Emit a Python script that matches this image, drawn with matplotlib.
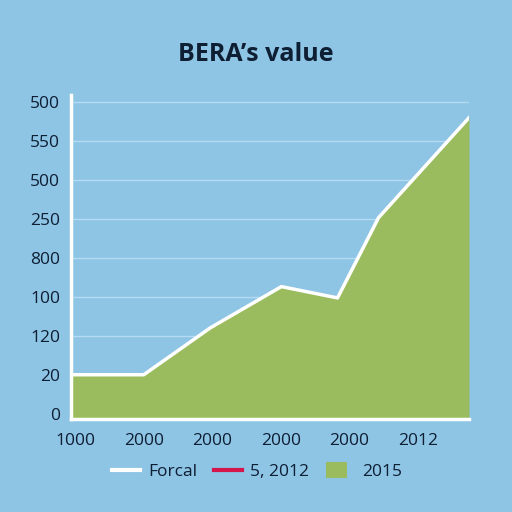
import numpy as np
import matplotlib
matplotlib.use("Agg")
from matplotlib import pyplot as plt
from matplotlib.lines import Line2D
from matplotlib.patches import Patch, Rectangle
from matplotlib.legend_handler import HandlerPatch

# values (tick index units)
x_vals = [-0.06, 1.0, 1.97, 3.01, 3.83, 4.43, 5.75]
y_vals = [1.0, 1.0, 2.2, 3.26, 2.97, 5.03, 7.59]

y_labels = ["0", "20", "120", "100", "800", "250", "500", "550", "500"]
x_labels = ["1000", "2000", "2000", "2000", "2000", "2012"]
legend_labels = ["Forcal", "5, 2012", "2015"]

bg = "#8ec4e4"
green = "#9bbc5e"
ink = "#0e1e33"

plt.rcParams["font.family"] = ["Open Sans", "DejaVu Sans"]


def square_patch(legend, orig_handle, xdescent, ydescent, width, height, fontsize):
    # narrower, taller box than the default legend patch
    w = width * 0.75
    h = height * 1.3
    return Rectangle((-xdescent, -ydescent - (h - height) / 2), w, h)


fig = plt.figure(figsize=(5.12, 5.12), dpi=100, facecolor=bg)
ax = fig.add_axes([0.139, 0.182, 0.777, 0.633], facecolor=bg)

ymin, ymax = -0.13, 8.18
ax.fill_between(x_vals, y_vals, ymin, color=green, lw=0, zorder=2)
ax.plot(x_vals, y_vals, color="white", lw=2.5, solid_joinstyle="round", zorder=3)

for i in range(1, len(y_labels)):
    ax.axhline(i, color="#b5dcf2", lw=1, zorder=1)

ax.set_xlim(x_vals[0], x_vals[-1])
ax.set_ylim(ymin, ymax)
ax.set_yticks(range(len(y_labels)))
ax.set_yticklabels(y_labels)
ax.set_xticks(range(len(x_labels)))
ax.set_xticklabels(x_labels)
ax.tick_params(length=0, labelsize=12.5, colors=ink)
ax.tick_params(axis="y", pad=8)
ax.tick_params(axis="x", pad=10)

for s in ["top", "right"]:
    ax.spines[s].set_visible(False)
for s in ["left", "bottom"]:
    ax.spines[s].set_color("white")
    ax.spines[s].set_linewidth(2.5)
    ax.spines[s].set_zorder(4)

fig.text(0.5, 0.893, "BERA\u2019s value", ha="center", va="center",
         fontsize=18, fontweight="bold", color=ink)

handles = [Line2D([], [], color="white", lw=3),
           Line2D([], [], color="#d4174a", lw=3),
           Patch(facecolor=green, edgecolor="none")]
fig.legend(handles, legend_labels, loc="center", bbox_to_anchor=(0.502, 0.078),
           ncol=3, frameon=False, fontsize=12.5, labelcolor=ink,
           handlelength=1.6, columnspacing=1.0, handletextpad=0.45,
           handler_map={Patch: HandlerPatch(patch_func=square_patch)})

plt.savefig("out.png", dpi=100, facecolor=bg)
